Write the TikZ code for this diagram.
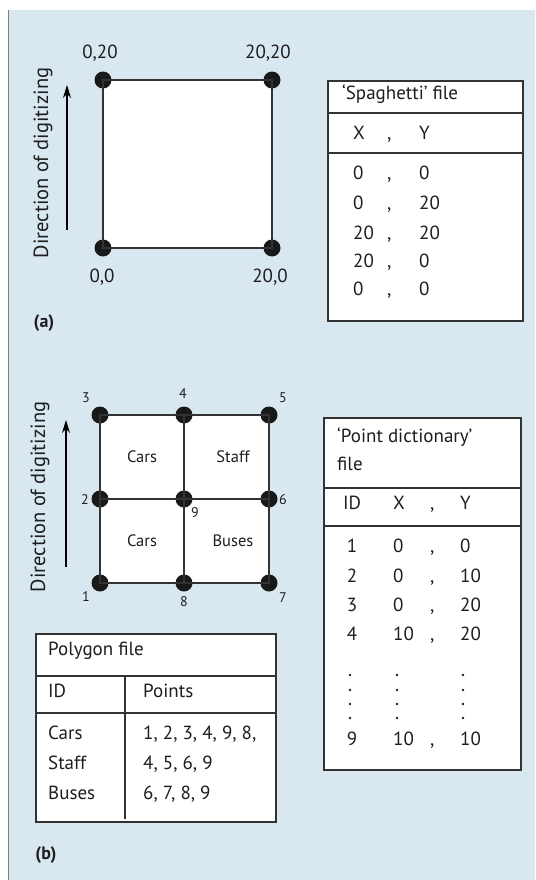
\documentclass[tikz,border=0pt]{standalone}
\usepackage{fontspec}
\setmainfont{PT Sans}
\usetikzlibrary{arrows.meta}
\definecolor{bgc}{HTML}{D8E7F0}
\definecolor{txc}{HTML}{1E1E1E}
\definecolor{lnc}{HTML}{333333}
\tikzset{
  txt/.style={font=\fontsize{19}{22}\selectfont, text=txc, inner sep=0pt},
  dirtxt/.style={font=\fontsize{20.5}{23}\selectfont, text=txc, inner sep=0pt},
  small/.style={font=\fontsize{14}{16}\selectfont, text=txc, inner sep=0pt},
  area/.style={font=\fontsize{16.5}{19}\selectfont, text=txc, inner sep=0pt},
  lbl/.style={font=\fontsize{18}{21}\selectfont\bfseries, text=txc, inner sep=0pt},
  dot/.style={circle, fill=black!90, minimum size=17pt, inner sep=0pt},
  edge/.style={draw=lnc, line width=1.3pt},
  tab/.style={draw=lnc, line width=1.3pt, fill=white},
  tline/.style={draw=lnc, line width=1.3pt},
  dirarrow/.style={draw=black, line width=1.2pt, -{Stealth[length=13pt,width=8pt]}},
}
\begin{document}
\begin{tikzpicture}[x=1pt,y=-1pt]
\useasboundingbox (0,0) rectangle (535,880);
\fill[white] (0,0) rectangle (535,880);
\fill[bgc] (9,10) rectangle (535,880);
\draw[gray, line width=1.4pt] (8.5,10) -- (8.5,880);

% ---------- (a) ----------
\fill[white] (103,80) rectangle (272,248);
\node[dot] (a00) at (103,248) {};
\node[dot] (a020) at (103,80) {};
\node[dot] (a2020) at (272,80) {};
\node[dot] (a200) at (272,248) {};
\draw[edge] (a00.center) -- (a020.center) -- (a2020.center) -- (a200.center) -- cycle;
\node[txt] (la020) at (100,53) {0,20};
\node[txt] (la2020) at (268,53) {20,20};
\node[txt] (la00) at (102,277) {0,0};
\node[txt] (la200) at (270,277) {20,0};
\coordinate (arA1) at (67,230);
\coordinate (arA2) at (67,85);
\draw[dirarrow] (arA1) -- (arA2);
\node[dirtxt, rotate=90] (dirA) at (43,163) {Direction of digitizing};
\node[lbl] (labA) at (44,323) {(a)};

% Spaghetti table
\path[tab] (328,81) rectangle (523,321);
\draw[tline] (328,113) -- (523,113);
\draw[tline] (328,153) -- (523,153);
\node[txt, anchor=mid west] (sTitle) at (342,97) {`Spaghetti' file};
\node[txt, anchor=mid west] (sX) at (353,137) {X};
\node[txt, anchor=mid west] (sC) at (387,137) {,};
\node[txt, anchor=mid west] (sY) at (419,137) {Y};
\foreach \xv/\yv/\r [count=\i] in {0/0/177, 0/20/207, 20/20/237, 20/0/265, 0/0/293}{
  \node[txt, anchor=mid west] (sx\i) at (353,\r) {\xv};
  \node[txt, anchor=mid west] (sc\i) at (387,\r) {,};
  \node[txt, anchor=mid west] (sy\i) at (419,\r) {\yv};
}

% ---------- (b) ----------
\fill[white] (100,415) rectangle (269,583);
\node[dot] (p1) at (100,583) {};
\node[dot] (p2) at (100,499) {};
\node[dot] (p3) at (100,415) {};
\node[dot] (p4) at (184,415) {};
\node[dot] (p5) at (269,415) {};
\node[dot] (p6) at (269,499) {};
\node[dot] (p7) at (269,583) {};
\node[dot] (p8) at (184,583) {};
\node[dot] (p9) at (184,499) {};
\draw[edge] (p1.center) -- (p3.center) -- (p5.center) -- (p7.center) -- cycle;
\draw[edge] (p4.center) -- (p8.center);
\draw[edge] (p2.center) -- (p6.center);
\node[small] (n3) at (86,398) {3};
\node[small] (n4) at (183,394) {4};
\node[small] (n5) at (283,398) {5};
\node[small] (n2) at (85,500) {2};
\node[small] (n6) at (283,500) {6};
\node[small] (n9) at (195,513) {9};
\node[small] (n1) at (86,597) {1};
\node[small] (n8) at (184,602) {8};
\node[small] (n7) at (283,598) {7};
\node[area] (cars1) at (142,457) {Cars};
\node[area] (staff) at (233,457) {Staff};
\node[area] (cars2) at (142,541) {Cars};
\node[area] (buses) at (233,541) {Buses};
\coordinate (arB1) at (66,567);
\coordinate (arB2) at (66,420);
\draw[dirarrow] (arB1) -- (arB2);
\node[dirtxt, rotate=90] (dirB) at (40,497) {Direction of digitizing};

% Point dictionary table
\path[tab] (324,418) rectangle (521,770);
\draw[tline] (324,488) -- (521,488);
\draw[tline] (324,526) -- (521,526);
\node[txt, anchor=mid west] (pTitle1) at (337,440) {`Point dictionary'};
\node[txt, anchor=mid west] (pTitle2) at (337,468) {file};
\node[txt, anchor=mid west] (pID) at (343,507) {ID};
\node[txt, anchor=mid west] (pX) at (393,507) {X};
\node[txt, anchor=mid west] (pC) at (430,507) {,};
\node[txt, anchor=mid west] (pY) at (460,507) {Y};
\foreach \id/\xv/\yv/\r [count=\i] in {1/0/0/550, 2/0/10/580, 3/0/20/609, 4/10/20/638, 9/10/10/743}{
  \node[txt, anchor=mid] (pi\i) at (352,\r) {\id};
  \node[txt, anchor=mid west] (px\i) at (393,\r) {\xv};
  \node[txt, anchor=mid west] (pc\i) at (430,\r) {,};
  \node[txt, anchor=mid west] (py\i) at (460,\r) {\yv};
}
\foreach \xx in {350,397,463}{
  \foreach \yy in {675,690,704,718}{
    \fill[txc] (\xx,\yy) circle (1.3pt);
  }
}

% Polygon table
\path[tab] (36,634) rectangle (276,822);
\draw[tline] (36,676) -- (276,676);
\draw[tline] (36,713) -- (276,713);
\draw[tline] (125,676) -- (125,819);
\node[txt, anchor=mid west] (gTitle) at (48,653) {Polygon file};
\node[txt, anchor=mid west] (gID) at (48,695) {ID};
\node[txt, anchor=mid west] (gPts) at (143,695) {Points};
\node[txt, anchor=mid west] (g1) at (48,737) {Cars};
\node[txt, anchor=mid west] (g2) at (48,767) {Staff};
\node[txt, anchor=mid west] (g3) at (48,797) {Buses};
\node[txt, anchor=mid west] (h1) at (143,737) {1, 2, 3, 4, 9, 8,};
\node[txt, anchor=mid west] (h2) at (143,767) {4, 5, 6, 9};
\node[txt, anchor=mid west] (h3) at (143,797) {6, 7, 8, 9};
\node[lbl] (labB) at (46,855) {(b)};
\end{tikzpicture}
\end{document}
